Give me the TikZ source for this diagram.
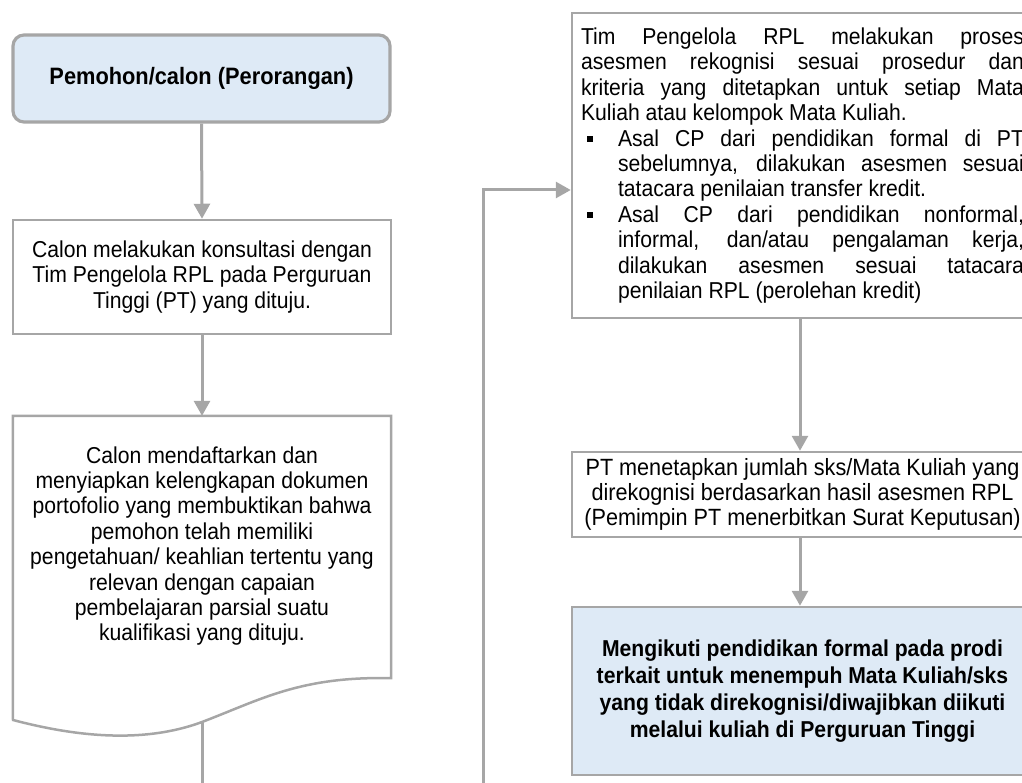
\documentclass[tikz,border=0pt]{standalone}
\usepackage{fontspec}
\setmainfont[FakeStretch=0.92]{Liberation Sans}
\usetikzlibrary{arrows.meta,calc}
\definecolor{bord}{HTML}{A6A6A6}
\definecolor{fillb}{HTML}{DEEAF6}
\newcommand{\mybul}{\par\hangindent=37pt\hangafter=1\noindent\makebox[37pt][l]{\hspace{6pt}\raisebox{4.5pt}{\rule{6pt}{6pt}}}}
\begin{document}
\begin{tikzpicture}[x=1pt,y=-1pt,
  box/.style={draw=bord, line width=2.5pt, fill=white, inner sep=0pt, align=center,
    font=\fontsize{23}{25.4}\selectfont},
  startbox/.style={box, rounded corners=11pt, line width=3.2pt, fill=fillb, font=\bfseries\fontsize{23.7}{25.4}\selectfont},
  endbox/.style={box, fill=fillb, font=\bfseries\fontsize{23}{27}\selectfont},
  docbox/.style={inner sep=0pt, align=center, font=\fontsize{23}{25.4}\selectfont},
  docline/.style={draw=bord, line width=2.5pt, line join=miter},
  conn/.style={draw=bord, line width=3pt, -{Triangle[length=15pt,width=16pt]}},
  plain/.style={draw=bord, line width=3pt}]
\useasboundingbox (0,0) rectangle (1022,783);
\clip (0,0) rectangle (1022,783);

% left column
\node[startbox, minimum width=377pt, minimum height=87pt] (b1) at (201.5,78.5) {Pemohon/calon (Perorangan)};
\node[box, minimum width=378pt, minimum height=114pt] (b2) at (202,277)
  {Calon melakukan konsultasi dengan\\Tim Pengelola RPL pada Perguruan\\Tinggi (PT) yang dituju.};
\node[docbox, minimum width=378pt, minimum height=260pt] (b3) at (202,546)
  {Calon mendaftarkan dan\\menyiapkan kelengkapan dokumen\\portofolio yang membuktikan bahwa\\pemohon telah memiliki\\pengetahuan/ keahlian tertentu yang\\relevan dengan capaian\\pembelajaran parsial suatu\\kualifikasi yang dituju.};
\coordinate (b3w) at (202,722);
\draw[docline] ($(b3.south east)+(0,2)$) -- (b3.north east) -- (b3.north west) -- (13,720)
  .. controls (70,735) and (140,745) .. (b3w)
  .. controls (260,700) and (300,676) .. ($(b3.south east)+(0,2)$) -- cycle;

% right column
\node[box, minimum width=461pt, minimum height=305pt, text width=443pt, align=justify,
  execute at begin node={\parindent=0pt\parskip=0pt}] (b4) at (802.5,165.5)
  {Tim Pengelola RPL melakukan proses\linebreak asesmen rekognisi sesuai prosedur dan\linebreak kriteria yang ditetapkan untuk setiap Mata\linebreak Kuliah atau kelompok Mata Kuliah.%
  \mybul Asal CP dari pendidikan formal di PT\linebreak sebelumnya, dilakukan asesmen sesuai\linebreak tatacara penilaian transfer kredit.%
  \mybul Asal CP dari pendidikan nonformal,\linebreak informal, dan/atau pengalaman kerja,\linebreak dilakukan asesmen sesuai tatacara\linebreak penilaian RPL (perolehan kredit)\par};
\node[box, minimum width=461pt, minimum height=85pt, font=\fontsize{23.5}{25.4}\selectfont] (b5) at (802.5,494.5)
  {PT menetapkan jumlah sks/Mata Kuliah yang\\direkognisi berdasarkan hasil asesmen RPL\\(Pemimpin PT menerbitkan Surat Keputusan)};
\node[endbox, minimum width=461pt, minimum height=168pt] (b6) at (802.5,691)
  {Mengikuti pendidikan formal pada prodi\\terkait untuk menempuh Mata Kuliah/sks\\yang tidak direkognisi/diwajibkan diikuti\\melalui kuliah di Perguruan Tinggi};

% connectors
\draw[conn] (b1.south) -- (b2.north);
\draw[conn] (b2.south) -- (b3.north);
\coordinate (e1) at (202,795);
\draw[plain] (b3w) -- (e1);
\coordinate (e2) at (483,795);
\coordinate (turn) at (483,190);
\draw[conn] (e2) -- (turn) -- (turn -| b4.west);
\draw[conn] (b4.south -| 800,0) -- (b5.north -| 800,0);
\draw[conn] (b5.south -| 800,0) -- (b6.north -| 800,0);
\end{tikzpicture}
\end{document}
